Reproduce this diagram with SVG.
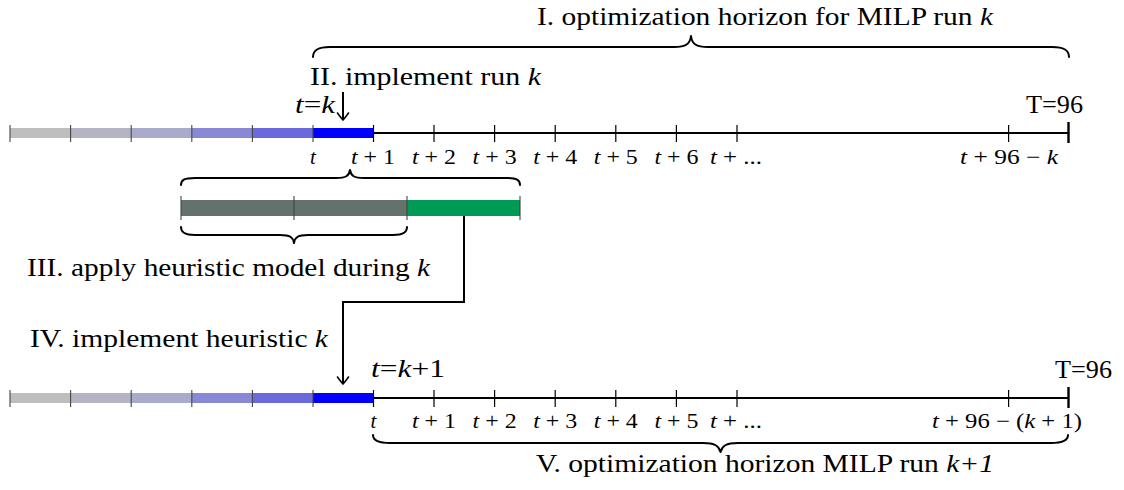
<svg xmlns="http://www.w3.org/2000/svg" xmlns:xlink="http://www.w3.org/1999/xlink" width="1124" height="490" viewBox="0 0 1124 490">
<style>
  text { font-family: "Liberation Serif", "Times New Roman", serif; fill: #000; }
  .lbl { font-size: 25px; }
  .tk { font-size: 21px; }
  .it { font-style: italic; }
  .axis { stroke: #000; stroke-width: 2; fill: none; }
  .tick { stroke: #000; stroke-width: 1.2; }
  .btick { stroke: #444; stroke-width: 1.1; }
  .endtick { stroke: #000; stroke-width: 2.4; }
  .brace { stroke: #000; stroke-width: 2; fill: none; stroke-linejoin: round; stroke-linecap: round; }
  .conn { stroke: #000; stroke-width: 2; fill: none; }
  .s1 { fill: #bebebe; } .s2 { fill: #b4b4c5; } .s3 { fill: #aaaacb; }
  .s4 { fill: #8888d5; } .s5 { fill: #6a6adc; } .s6 { fill: #0000ff; }
  .hgray { fill: #63736b; } .hgreen { fill: #009955; }
</style>
<defs>
  <marker id="to" markerUnits="userSpaceOnUse" viewBox="-9 -7 11 14" refX="0" refY="0" markerWidth="11" markerHeight="14" orient="auto">
    <path d="M-7,-5.5 Q-1.5,-1.5 0,0 Q-1.5,1.5 -7,5.5" fill="none" stroke="#000" stroke-width="1.6" stroke-linecap="round"/>
  </marker>
  <g id="timeline">
    <rect class="s1" x="10" y="128" width="60.6" height="10"/>
    <rect class="s2" x="70.6" y="128" width="60.6" height="10"/>
    <rect class="s3" x="131.2" y="128" width="60.6" height="10"/>
    <rect class="s4" x="191.8" y="128" width="60.6" height="10"/>
    <rect class="s5" x="252.4" y="128" width="60.6" height="10"/>
    <rect class="s6" x="313" y="128" width="60.5" height="10"/>
    <line class="axis" x1="373.5" y1="133" x2="1068.5" y2="133"/>
    <g class="btick">
      <line x1="10" y1="125" x2="10" y2="142"/>
      <line x1="70.6" y1="125" x2="70.6" y2="142"/>
      <line x1="131.2" y1="125" x2="131.2" y2="142"/>
      <line x1="191.8" y1="125" x2="191.8" y2="142"/>
      <line x1="252.4" y1="125" x2="252.4" y2="142"/>
      <line x1="313" y1="125" x2="313" y2="142"/>
    </g>
    <g class="tick">
      <line x1="373.5" y1="125" x2="373.5" y2="142"/>
      <line x1="434" y1="125" x2="434" y2="142"/>
      <line x1="494.6" y1="125" x2="494.6" y2="142"/>
      <line x1="555.2" y1="125" x2="555.2" y2="142"/>
      <line x1="615.8" y1="125" x2="615.8" y2="142"/>
      <line x1="676.4" y1="125" x2="676.4" y2="142"/>
      <line x1="737" y1="125" x2="737" y2="142"/>
      <line x1="1008.6" y1="125" x2="1008.6" y2="142"/>
    </g>
    <line class="endtick" x1="1068.5" y1="122" x2="1068.5" y2="143"/>
  </g>
</defs>

<g id="timeline-run-k">
  <use xlink:href="#timeline" href="#timeline"/>
  <text class="lbl" x="295" y="113" textLength="40" lengthAdjust="spacingAndGlyphs"><tspan class="it">t</tspan>=<tspan class="it">k</tspan></text>
  <text class="lbl" x="1026" y="113" textLength="57" lengthAdjust="spacingAndGlyphs">T=96</text>
  <g class="tk">
    <text x="313" y="164" text-anchor="middle" class="it">t</text>
    <text x="351" y="164" textLength="44" lengthAdjust="spacingAndGlyphs"><tspan class="it">t</tspan> + 1</text>
    <text x="412" y="164" textLength="44" lengthAdjust="spacingAndGlyphs"><tspan class="it">t</tspan> + 2</text>
    <text x="472.6" y="164" textLength="44" lengthAdjust="spacingAndGlyphs"><tspan class="it">t</tspan> + 3</text>
    <text x="533.2" y="164" textLength="44" lengthAdjust="spacingAndGlyphs"><tspan class="it">t</tspan> + 4</text>
    <text x="593.8" y="164" textLength="44" lengthAdjust="spacingAndGlyphs"><tspan class="it">t</tspan> + 5</text>
    <text x="654.4" y="164" textLength="44" lengthAdjust="spacingAndGlyphs"><tspan class="it">t</tspan> + 6</text>
    <text x="710" y="164" textLength="52" lengthAdjust="spacingAndGlyphs"><tspan class="it">t</tspan> + ...</text>
    <text x="960" y="164" textLength="98" lengthAdjust="spacingAndGlyphs"><tspan class="it">t</tspan> + 96 − <tspan class="it">k</tspan></text>
  </g>
</g>

<g id="timeline-run-k1">
  <use xlink:href="#timeline" href="#timeline" transform="translate(0,265)"/>
  <text class="lbl" x="371" y="377" textLength="74" lengthAdjust="spacingAndGlyphs"><tspan class="it">t</tspan>=<tspan class="it">k</tspan>+1</text>
  <text class="lbl" x="1055" y="378" textLength="57" lengthAdjust="spacingAndGlyphs">T=96</text>
  <g class="tk">
    <text x="373.5" y="428" text-anchor="middle" class="it">t</text>
    <text x="412" y="428" textLength="44" lengthAdjust="spacingAndGlyphs"><tspan class="it">t</tspan> + 1</text>
    <text x="472.6" y="428" textLength="44" lengthAdjust="spacingAndGlyphs"><tspan class="it">t</tspan> + 2</text>
    <text x="533.2" y="428" textLength="44" lengthAdjust="spacingAndGlyphs"><tspan class="it">t</tspan> + 3</text>
    <text x="593.8" y="428" textLength="44" lengthAdjust="spacingAndGlyphs"><tspan class="it">t</tspan> + 4</text>
    <text x="654.4" y="428" textLength="44" lengthAdjust="spacingAndGlyphs"><tspan class="it">t</tspan> + 5</text>
    <text x="710" y="428" textLength="52" lengthAdjust="spacingAndGlyphs"><tspan class="it">t</tspan> + ...</text>
    <text x="932" y="428" textLength="150" lengthAdjust="spacingAndGlyphs"><tspan class="it">t</tspan> + 96 − (<tspan class="it">k</tspan> + 1)</text>
  </g>
</g>

<g id="heuristic-bar">
  <rect class="hgray" x="181" y="200" width="226" height="16"/>
  <rect class="hgreen" x="407" y="200" width="113" height="16"/>
  <g class="btick">
    <line x1="181" y1="196" x2="181" y2="220"/>
    <line x1="294" y1="196" x2="294" y2="220"/>
    <line x1="407" y1="196" x2="407" y2="220"/>
    <line x1="520" y1="196" x2="520" y2="220"/>
  </g>
</g>

<g id="brace-horizon-k">
  <path class="brace" d="M313,57 C313,50 318,47 330,47 L674,47 C686,47 690,44 691,36 C692,44 696,47 708,47 L1052,47 C1064,47 1069,50 1069,57"/>
  <text class="lbl" x="537" y="25" textLength="456" lengthAdjust="spacingAndGlyphs">I. optimization horizon for MILP run <tspan class="it">k</tspan></text>
</g>

<g id="implement-run-k">
  <text class="lbl" x="310" y="85" textLength="231" lengthAdjust="spacingAndGlyphs">II. implement run <tspan class="it">k</tspan></text>
</g>

<g id="brace-heuristic-window">
  <path class="brace" d="M181,185 C181,180 184,178 195,178 L336,178 C346,178 349,176 350,170 C351,176 354,178 364,178 L506,178 C517,178 520,180 520,185"/>
</g>

<g id="brace-heuristic-model">
  <path class="brace" d="M181,227 C181,232 184,235 195,235 L280,235 C290,235 293,237 294,243 C295,237 298,235 308,235 L393,235 C404,235 407,232 407,227"/>
  <text class="lbl" x="27" y="276" textLength="403" lengthAdjust="spacingAndGlyphs">III. apply heuristic model during <tspan class="it">k</tspan></text>
</g>

<g id="implement-heuristic-k">
  <text class="lbl" x="30" y="347" textLength="298" lengthAdjust="spacingAndGlyphs">IV. implement heuristic <tspan class="it">k</tspan></text>
</g>

<g id="brace-horizon-k1">
  <path class="brace" d="M373,435 C373,440 378,443 390,443 L703,443 C715,443 719,446 720.5,452 C722,446 726,443 738,443 L1051,443 C1063,443 1068,440 1068,435"/>
  <text class="lbl" x="536" y="472" textLength="458" lengthAdjust="spacingAndGlyphs">V. optimization horizon MILP run <tspan class="it">k+1</tspan></text>
</g>

<g id="connectors">
  <line class="conn" x1="343" y1="92" x2="343" y2="120" marker-end="url(#to)"/>
  <path class="conn" d="M464,216 V302 H343 V384" marker-end="url(#to)"/>
</g>
</svg>
